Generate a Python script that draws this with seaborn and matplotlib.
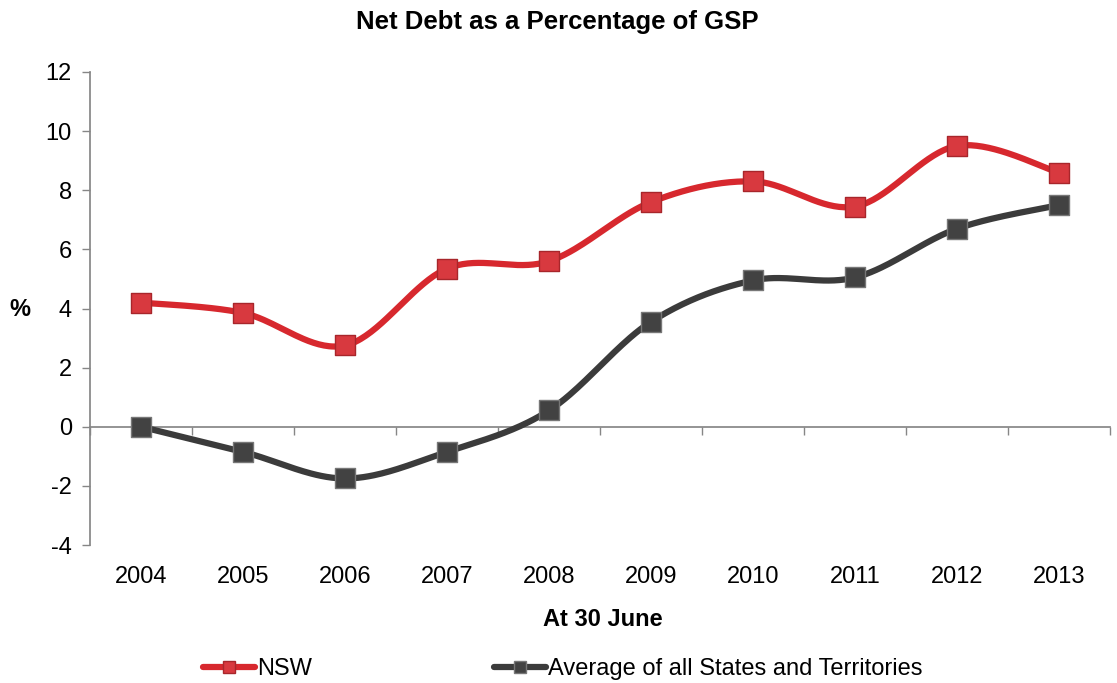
import numpy as np
import pandas as pd
import matplotlib
matplotlib.use("Agg")
import matplotlib.pyplot as plt
from matplotlib.lines import Line2D
import seaborn as sns

years = ["2004", "2005", "2006", "2007", "2008", "2009", "2010", "2011", "2012", "2013"]
nsw = [4.2, 3.85, 2.75, 5.35, 5.6, 7.6, 8.3, 7.45, 9.5, 8.6]
avg_states = [0.0, -0.85, -1.75, -0.85, 0.55, 3.55, 4.95, 5.05, 6.7, 7.5]

series_names = ["NSW", "Average of all States and Territories"]
line_colors = ["#D7282E", "#3B3B3B"]
marker_faces = ["#D8393F", "#424242"]
marker_edges = ["#A8262B", "#777777"]

sns.set_theme(style="white")
plt.rcParams["font.family"] = ["Liberation Sans", "DejaVu Sans"]
plt.rcParams["text.color"] = "black"
FS = 17


def smooth_curve(xv, yv, steps=40):
    """Cubic Bezier smoothing through every point (Catmull-Rom style tangents)."""
    p = np.column_stack([xv, yv]).astype(float)
    ext = np.vstack([p[0], p, p[-1]])
    out = []
    t = np.linspace(0, 1, steps)[:, None]
    for i in range(len(p) - 1):
        p0, p1 = ext[i + 1], ext[i + 2]
        c1 = p0 + (ext[i + 2] - ext[i]) / 6.0
        c2 = p1 - (ext[i + 3] - ext[i + 1]) / 6.0
        seg = ((1 - t) ** 3) * p0 + 3 * ((1 - t) ** 2) * t * c1 + 3 * (1 - t) * t ** 2 * c2 + t ** 3 * p1
        out.append(seg if i == 0 else seg[1:])
    out = np.vstack(out)
    return out[:, 0], out[:, 1]


fig = plt.figure(figsize=(11.17, 6.83), dpi=100)
ax = fig.add_axes([90 / 1117, 1 - 545 / 683, (1110 - 90) / 1117, (545 - 72) / 683])

pos = np.arange(len(years))
for vals, name, lc, mf, me in zip([nsw, avg_states], series_names, line_colors, marker_faces, marker_edges):
    sx, sy = smooth_curve(pos, vals)
    curve = pd.DataFrame({"x": sx, "y": sy})
    sns.lineplot(data=curve, x="x", y="y", ax=ax, color=lc, linewidth=4.5, sort=False,
                 estimator=None, zorder=3)
    pts = pd.DataFrame({"x": pos, "y": vals})
    sns.scatterplot(data=pts, x="x", y="y", ax=ax, marker="s", s=190, color=mf,
                    edgecolor=me, linewidth=1.0, zorder=4)

ax.set_xlim(-0.5, len(years) - 0.5)
ax.set_ylim(-4, 12)
ax.set_yticks(np.arange(-4, 13, 2))
ax.set_yticklabels([str(v) for v in range(-4, 13, 2)], fontsize=FS, color="black")
ax.tick_params(axis="y", direction="out", length=6, width=1, color="#868686", pad=7, left=True)

# horizontal axis sits on the zero line, with boundary ticks between categories
for side in ["top", "right"]:
    ax.spines[side].set_visible(False)
ax.spines["left"].set_color("#868686")
ax.spines["bottom"].set_color("#868686")
ax.spines["bottom"].set_position(("data", 0))
ax.set_xticks(pos)
ax.set_xticklabels([])
ax.tick_params(axis="x", which="major", length=0)
ax.set_xticks(np.arange(-0.5, len(years), 1.0), minor=True)
ax.tick_params(axis="x", which="minor", direction="out", length=6, width=1, color="#868686", bottom=True)

sec = ax.secondary_xaxis("bottom")
sec.set_xticks(pos)
sec.set_xticklabels(years, fontsize=FS, color="black")
sec.tick_params(length=0, pad=15)
sec.spines["bottom"].set_visible(False)

ax.set_xlabel("")
ax.set_ylabel("")
fig.text(603 / 1117, 1 - 619 / 683, "At 30 June", ha="center", va="center",
         fontsize=FS, fontweight="bold", color="black")
fig.text(20 / 1117, 1 - 310 / 683, "%", ha="center", va="center",
         fontsize=FS, fontweight="bold", color="black")
fig.text(557 / 1117, 1 - 22 / 683, "Net Debt as a Percentage of GSP", ha="center", va="center",
         fontsize=18.5, fontweight="bold", color="black")

handles = [Line2D([0], [0], color=lc, linewidth=4.5, marker="s", markersize=9,
                  markerfacecolor=mf, markeredgecolor=me)
           for lc, mf, me in zip(line_colors, marker_faces, marker_edges)]
leg = fig.legend(handles, series_names, loc="center", bbox_to_anchor=(563 / 1117, 1 - 669 / 683),
                 ncol=2, frameon=False, fontsize=FS, handlelength=2.2, handletextpad=0.1,
                 columnspacing=7.7, borderaxespad=0, borderpad=0)
for txt in leg.get_texts():
    txt.set_color("black")

fig.savefig("out.png", dpi=100, facecolor="white")
